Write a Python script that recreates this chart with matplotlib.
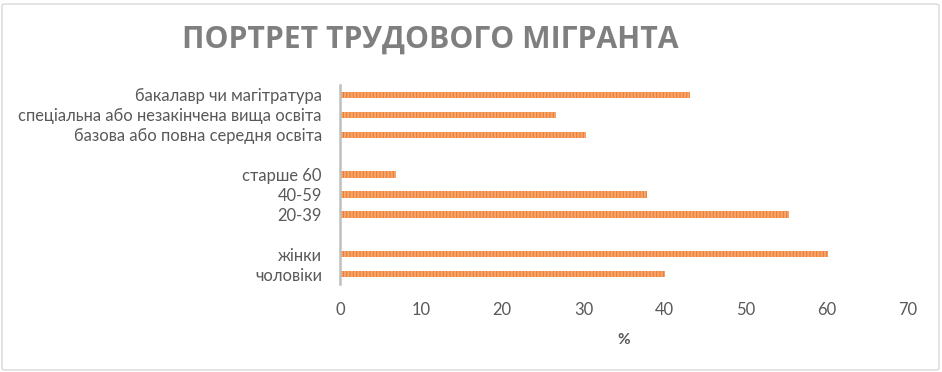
import matplotlib
matplotlib.use("Agg")
import matplotlib.pyplot as plt
from matplotlib.patches import FancyBboxPatch

categories = ["чоловіки", "жінки", "", "20-39", "40-59", "старше 60", "",
              "базова або повна середня освіта",
              "спеціальна або незакінчена вища освіта",
              "бакалавр чи магітратура"]
values = [40.0, 60.2, None, 55.3, 37.8, 6.9, None, 30.3, 26.6, 43.1]
x_ticks = [0, 10, 20, 30, 40, 50, 60, 70]
title = "ПОРТРЕТ ТРУДОВОГО МІГРАНТА"
x_label = "%"

plt.rcParams['font.family'] = ['Lato', 'DejaVu Sans']
plt.rcParams['hatch.linewidth'] = 1.6
plt.rcParams['hatch.color'] = '#F5A56B'

fig = plt.figure(figsize=(9.42, 3.72), dpi=100)
ax = fig.add_axes([340/942, 1-284/372, 568/942, 199/372])

ys = [i for i, v in enumerate(values) if v is not None]
vs = [v for v in values if v is not None]
ax.barh(ys, vs, height=0.32, color='#ED7D31', edgecolor='#F5A56B',
        hatch='|||||', linewidth=0)

ax.set_ylim(-0.5, len(categories) - 0.5)
ax.set_xlim(0, 70)
ax.set_yticks(range(len(categories)))
ax.set_yticklabels(categories)
ax.set_xticks(x_ticks)
ax.tick_params(axis='both', length=0, labelsize=11.9, labelcolor='#595959')
ax.tick_params(axis='x', pad=13)
ax.tick_params(axis='y', pad=13)
for s in ['top', 'right', 'bottom']:
    ax.spines[s].set_visible(False)
ax.spines['left'].set_color('#BFBFBF')
ax.spines['left'].set_linewidth(1.8)
ax.set_xlabel(x_label, fontsize=11, color='#595959', fontweight='bold', labelpad=11)

fig.text(430/942, 1-40/372, title, ha='center', va='center', fontsize=21.7,
         fontweight='bold', color='#7F7F7F', family=['Open Sans', 'DejaVu Sans'])

border = FancyBboxPatch((2/942, 2/372), 937/942, 366/372,
                        boxstyle='round,pad=0,rounding_size=0.004',
                        transform=fig.transFigure, fill=False,
                        edgecolor='#D9D9D9', linewidth=1)
fig.patches.append(border)

fig.savefig("out.png", dpi=100)
